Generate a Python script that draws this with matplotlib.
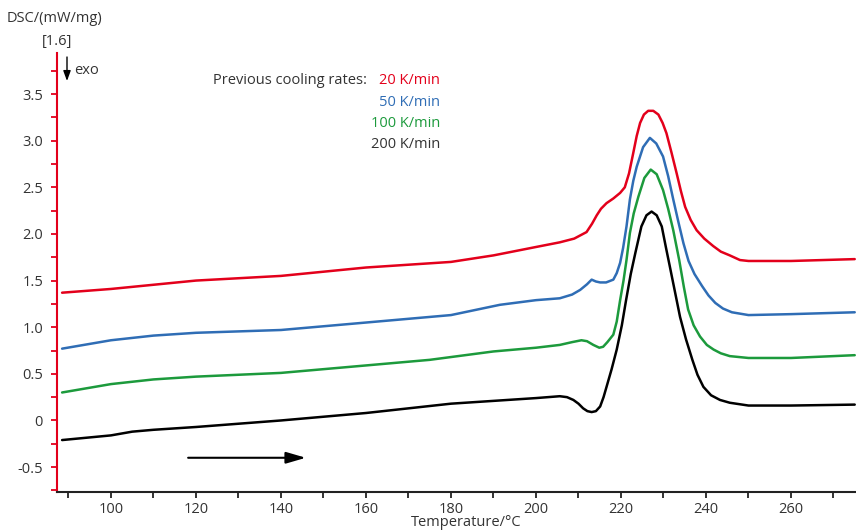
import matplotlib
matplotlib.use("Agg")
import matplotlib.pyplot as plt
from matplotlib.ticker import MultipleLocator

plt.rcParams['font.family'] = ['Open Sans', 'DejaVu Sans']

# Temperature (°C) / DSC (mW/mg)
t_red = [88.5, 100, 120, 140, 160, 180, 190, 200, 205.6, 209, 211.9, 213.2, 214.3, 215.3, 216.6, 218.2, 219.8, 220.9, 221.9, 222.9, 223.7, 224.5, 225.4, 226.4, 227.6, 228.8, 229.8, 230.7, 231.9, 233.1, 234.1, 235.1, 236.4, 237.8, 239.6, 241.7, 243.5, 245.6, 248, 250, 260, 275]
v_red = [1.37, 1.41, 1.50, 1.55, 1.64, 1.70, 1.77, 1.86, 1.91, 1.95, 2.02, 2.11, 2.20, 2.27, 2.33, 2.38, 2.44, 2.50, 2.65, 2.87, 3.05, 3.19, 3.28, 3.32, 3.32, 3.28, 3.19, 3.08, 2.87, 2.65, 2.46, 2.29, 2.15, 2.04, 1.95, 1.87, 1.81, 1.77, 1.72, 1.71, 1.71, 1.73]

t_blue = [88.5, 100, 110, 120, 140, 160, 180, 191.5, 200, 205.6, 208.5, 210.4, 212.0, 213.1, 214.1, 215.1, 216.5, 218.2, 219.0, 219.8, 220.5, 221.3, 222.1, 222.9, 223.7, 225.2, 226.8, 228.3, 229.9, 231.1, 232.3, 233.5, 234.7, 235.9, 237.3, 239.1, 240.6, 242.2, 244.0, 246.1, 250, 260, 275]
v_blue = [0.77, 0.86, 0.91, 0.94, 0.97, 1.05, 1.13, 1.24, 1.29, 1.31, 1.35, 1.40, 1.46, 1.51, 1.49, 1.48, 1.48, 1.51, 1.58, 1.69, 1.85, 2.08, 2.37, 2.57, 2.72, 2.93, 3.03, 2.97, 2.83, 2.62, 2.37, 2.13, 1.90, 1.71, 1.57, 1.44, 1.34, 1.26, 1.20, 1.16, 1.13, 1.14, 1.16]

t_green = [88.5, 100, 110, 120, 140, 160, 175, 190, 200, 205.6, 208.5, 210.7, 212.0, 213.5, 214.9, 215.8, 216.8, 218.2, 219.0, 219.8, 220.6, 221.3, 222.1, 223.0, 224.1, 225.5, 227.0, 228.4, 229.9, 231.1, 232.3, 233.7, 234.8, 235.8, 237.1, 238.6, 240.2, 241.8, 243.5, 245.6, 250, 260, 275]
v_green = [0.30, 0.39, 0.44, 0.47, 0.51, 0.59, 0.65, 0.74, 0.78, 0.81, 0.84, 0.86, 0.85, 0.81, 0.78, 0.79, 0.84, 0.92, 1.06, 1.29, 1.50, 1.72, 2.01, 2.22, 2.40, 2.60, 2.69, 2.64, 2.47, 2.27, 2.04, 1.72, 1.43, 1.19, 1.02, 0.90, 0.81, 0.76, 0.72, 0.69, 0.67, 0.67, 0.70]

t_black = [88.5, 100, 105, 110, 120, 140, 160, 180, 200, 205.6, 207.3, 208.8, 210.0, 211.1, 212.1, 213.1, 214.1, 215.1, 215.9, 216.6, 217.8, 219.0, 220.2, 221.2, 222.3, 223.4, 224.8, 226.0, 227.2, 228.4, 229.6, 230.6, 231.5, 232.7, 233.9, 235.3, 236.8, 238.0, 239.4, 241.2, 243.3, 245.6, 250, 260, 275]
v_black = [-0.21, -0.16, -0.12, -0.10, -0.07, 0.00, 0.08, 0.18, 0.24, 0.26, 0.25, 0.22, 0.18, 0.13, 0.10, 0.09, 0.10, 0.15, 0.25, 0.36, 0.55, 0.76, 1.02, 1.29, 1.57, 1.80, 2.08, 2.20, 2.24, 2.20, 2.08, 1.85, 1.65, 1.38, 1.11, 0.87, 0.65, 0.49, 0.36, 0.27, 0.22, 0.19, 0.16, 0.16, 0.17]

series = [
    (t_red, v_red, '#e3001b', '20 K/min'),
    (t_blue, v_blue, '#2f6db5', '50 K/min'),
    (t_green, v_green, '#1c9a3c', '100 K/min'),
    (t_black, v_black, '#000000', '200 K/min'),
]

W, H = 856, 532
fig = plt.figure(figsize=(W / 100, H / 100), dpi=100)
ax = fig.add_axes([57 / W, (H - 492) / H, 1 - 57 / W, (492 - 53) / H])

for t, v, c, lab in series:
    ax.plot(t, v, color=c, lw=1.8, solid_joinstyle='round', solid_capstyle='round')

ax.set_xlim(87.3, 275.3)
ax.set_ylim(-0.767, 3.94)

for s in ['top', 'right']:
    ax.spines[s].set_visible(False)
ax.spines['left'].set_color('#e3001b')
ax.spines['left'].set_linewidth(1.5)
ax.spines['bottom'].set_color('#222222')
ax.spines['bottom'].set_linewidth(1.5)

ax.xaxis.set_major_locator(MultipleLocator(20))
ax.xaxis.set_minor_locator(MultipleLocator(10))
ax.yaxis.set_major_locator(MultipleLocator(0.5))
ax.yaxis.set_minor_locator(MultipleLocator(0.25))
ax.tick_params(axis='x', which='both', direction='out', length=4, width=1.3, color='#222222',
               labelsize=10.5, labelcolor='#333333', pad=3)
ax.tick_params(axis='y', which='both', direction='out', length=4, width=1.3, color='#e3001b',
               labelsize=10.5, labelcolor='#333333', pad=6)

def ylab(v):
    if abs(v) < 1e-9:
        return '0'
    return f'{v:.1f}'
yt = [-0.5, 0, 0.5, 1.0, 1.5, 2.0, 2.5, 3.0, 3.5]
ax.set_yticks(yt)
ax.set_yticklabels([ylab(v) for v in yt])
xt = [100, 120, 140, 160, 180, 200, 220, 240, 260]
ax.set_xticks(xt)
ax.set_xticklabels([str(v) for v in xt])

# direction arrow
ax.annotate('', xy=(146.5, -0.40), xytext=(117.5, -0.40),
            arrowprops=dict(arrowstyle='-|>,head_length=1.2,head_width=0.35', color='black', lw=1.5))

def px(x, y):
    return (x / W, 1 - y / H)

tc = '#333333'
fig.text(*px(55, 18), 'DSC/(mW/mg)', ha='center', va='center', fontsize=10.5, color=tc)
fig.text(*px(57, 42), '[1.6]', ha='center', va='center', fontsize=10.5, color=tc)
fig.text(*px(74, 71), 'exo', ha='left', va='center', fontsize=10.5, color=tc)
ax.annotate('', xy=(67, H - 81), xycoords='figure pixels', xytext=(67, H - 57), textcoords='figure pixels',
            arrowprops=dict(arrowstyle='-|>,head_length=0.6,head_width=0.22', color='black', lw=1.0,
                            shrinkA=0, shrinkB=0), annotation_clip=False)
fig.text(*px(466, 523), 'Temperature/°C', ha='center', va='center', fontsize=10.5, color=tc)

fig.text(*px(367, 81), 'Previous cooling rates:', ha='right', va='center', fontsize=10.5, color=tc)
ys = [81, 102, 124, 145]
for (t, v, c, lab), yy in zip(series, ys):
    fig.text(*px(440, yy), lab, ha='right', va='center', fontsize=10.5,
             color=c if c != '#000000' else tc)

fig.savefig('out.png', dpi=100)
